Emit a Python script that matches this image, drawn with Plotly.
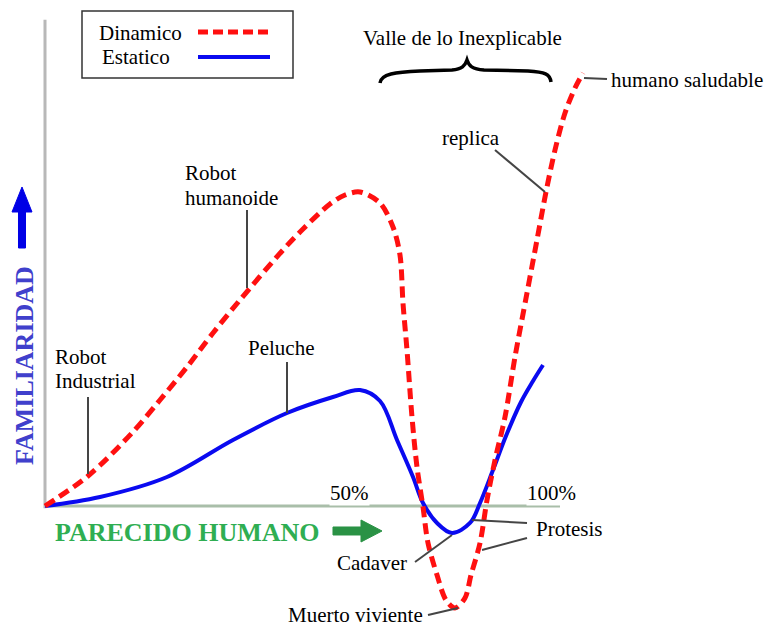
import plotly.graph_objects as go

W, H = 764, 626

# ---- Data (x: parecido humano, y: familiaridad; schematic units) ----
dyn_x = [0, 8.35, 16.89, 22.33, 27.57, 32.62, 37.86, 46.21, 50.10, 55.34, 58.25, 61.17,
         65.05, 67.57, 68.93, 69.51, 70.29, 71.26, 72.23, 73.40, 74.37, 76.12, 77.86,
         79.61, 81.55, 82.72, 84.47, 85.83, 87.38, 89.32, 91.26, 93.59, 95.53, 97.28,
         99.03, 100.97, 102.91, 104.47]
dyn_y = [0, 6.96, 16.94, 24.59, 32.25, 40.14, 47.80, 59.40, 64.27, 70.07, 72.16, 72.85,
         70.30, 64.73, 58.24, 47.10, 36.19, 20.65, 9.05, -0.23, -8.58, -16.01, -21.81,
         -23.67, -21.35, -16.01, -8.58, 1.39, 10.67, 20.65, 34.57, 49.42, 61.72, 72.85,
         82.60, 91.18, 96.98, 100.46]

sta_x = [0, 10.68, 23.69, 36.50, 46.99, 55.92, 61.17, 65.05, 68.35, 71.46, 73.40, 76.12,
         79.03, 82.52, 84.47, 86.99, 89.51, 92.43, 94.76, 96.70]
sta_y = [0, 2.09, 6.73, 15.31, 21.58, 25.29, 26.91, 24.36, 15.31, 6.73, 0.70, -3.94,
         -6.26, -3.94, 0.70, 8.35, 16.24, 24.13, 29.00, 32.71]

series_names = ["Dinamico", "Estatico"]
x_tick_labels = ["50%", "100%"]
axis_titles = ["PARECIDO HUMANO", "FAMILIARIDAD"]

# ---- Layout helpers ----
X0PX, Y0PX = 45, 506
XS, YS = 5.15, 4.31
xrange = [-X0PX / XS, (W - X0PX) / XS]
yrange = [-(H - Y0PX) / YS, Y0PX / YS]


def P(x, y):
    return x / W, 1 - y / H


def path_from(cmds, close=False):
    s = ""
    for c, pts in cmds:
        if c == "C":
            s += "C" + " ".join("%.5f,%.5f" % P(*p) for p in pts) + " "
        else:
            for p in pts:
                s += c + "%.5f,%.5f " % P(*p)
                if c == "M":
                    c = "L"
    if close:
        s += "Z"
    return s


SERIF = "Liberation Serif, Times New Roman, serif"
FS = 21
RED = "#ff1010"
BLUE = "#0a0af0"

fig = go.Figure()
fig.add_trace(go.Scatter(x=sta_x, y=sta_y, mode="lines", name=series_names[1],
                         line=dict(color=BLUE, width=4, shape="spline", smoothing=1.0),
                         hoverinfo="skip"))
fig.add_trace(go.Scatter(x=dyn_x, y=dyn_y, mode="lines", name=series_names[0],
                         line=dict(color=RED, width=5, shape="spline", smoothing=0.9,
                                   dash="11px,6px"),
                         hoverinfo="skip"))

shapes = []
# axes lines (data coordinates)
shapes.append(dict(type="line", xref="x", yref="y", x0=0, x1=0, y0=-0.5, y1=112.8,
                   line=dict(color="#b8b8b8", width=3), layer="below"))
shapes.append(dict(type="line", xref="x", yref="y", x0=0, x1=100, y0=0, y1=0,
                   line=dict(color="#a9bea9", width=3), layer="below"))


def pline(p0, p1, color="#454545", width=2):
    a = P(*p0)
    b = P(*p1)
    shapes.append(dict(type="line", xref="paper", yref="paper", x0=a[0], y0=a[1],
                       x1=b[0], y1=b[1], line=dict(color=color, width=width)))


# legend box
a = P(82, 11)
b = P(293, 78)
shapes.append(dict(type="rect", xref="paper", yref="paper", x0=a[0], y0=b[1], x1=b[0], y1=a[1],
                   line=dict(color="#333333", width=1.5), fillcolor="white"))
a = P(198, 32); b = P(270, 32)
shapes.append(dict(type="line", xref="paper", yref="paper", x0=a[0], y0=a[1], x1=b[0], y1=b[1],
                   line=dict(color=RED, width=5, dash="10px,5px")))
a = P(198, 57); b = P(270, 57)
shapes.append(dict(type="line", xref="paper", yref="paper", x0=a[0], y0=a[1], x1=b[0], y1=b[1],
                   line=dict(color=BLUE, width=4)))

# pointer lines
pline((88, 397), (88, 474))          # Robot Industrial
pline((287, 362), (287, 413))        # Peluche
pline((247, 210), (247, 288))        # Robot humanoide
pline((495, 150), (545, 192))        # replica
pline((584, 78), (607, 79))          # humano saludable
pline((527, 523), (472, 520))        # Protesis (estatico)
pline((527, 538), (482, 550))        # Protesis (dinamico)
pline((415, 562), (452, 535))        # Cadaver
pline((428, 615), (458, 608))        # Muerto viviente

# brace
brace = [("M", [(380, 83)]),
         ("C", [(381, 74), (395, 72), (420, 71)]),
         ("L", [(452, 70)]),
         ("C", [(462, 69), (465, 66), (467, 60)]),
         ("C", [(469, 66), (472, 69), (484, 70)]),
         ("L", [(528, 71)]),
         ("C", [(545, 72), (550, 74), (551, 82)])]
shapes.append(dict(type="path", xref="paper", yref="paper", path=path_from(brace),
                   line=dict(color="black", width=3.5)))

# arrows
blue_arrow = [("M", [(18.5, 248), (18.5, 212), (12, 212), (22, 187), (32, 212),
                     (25.5, 212), (25.5, 248)])]
shapes.append(dict(type="path", xref="paper", yref="paper", path=path_from(blue_arrow, True),
                   fillcolor="#0000e6", line=dict(color="#0000e6", width=1)))
green_arrow = [("M", [(333, 527), (361, 527), (361, 520), (382, 531), (361, 542),
                      (361, 535), (333, 535)])]
shapes.append(dict(type="path", xref="paper", yref="paper", path=path_from(green_arrow, True),
                   fillcolor="#2a9245", line=dict(color="#2a9245", width=1)))

annotations = []


def label(text, x, y, size=FS, color="black", bold=False, anchor="left", angle=0, bg=None):
    ax, ay = P(x, y)
    t = "<b>%s</b>" % text if bold else text
    d = dict(text=t, x=ax, y=ay, xref="paper", yref="paper", showarrow=False,
             xanchor=anchor, yanchor="middle", textangle=angle,
             font=dict(family=SERIF, size=size, color=color), borderpad=0)
    if bg:
        d["bgcolor"] = bg
    annotations.append(d)


label(series_names[0], 98, 33)
label(series_names[1], 101, 57)
label("Valle de lo Inexplicable", 362, 38)
label("humano saludable", 610, 80)
label("replica", 441, 138)
label("Robot", 184, 173)
label("humanoide", 184, 198)
label("Robot", 54, 357)
label("Industrial", 54, 381)
label("Peluche", 247, 348)
label(x_tick_labels[0], 329, 493, bg="white")
label(x_tick_labels[1], 526, 493, bg="white")
label("Protesis", 535, 529)
label("Cadaver", 336, 563)
label("Muerto viviente", 287, 615)
label(axis_titles[0], 54, 532, size=26, color="#2fae52", bold=True)
label(axis_titles[1], 24, 366, size=26, color="#4040cc", bold=True, anchor="center", angle=-90)

fig.update_layout(
    width=W, height=H,
    margin=dict(l=0, r=0, t=0, b=0),
    paper_bgcolor="white", plot_bgcolor="white",
    showlegend=False,
    xaxis=dict(range=xrange, visible=False, fixedrange=True),
    yaxis=dict(range=yrange, visible=False, fixedrange=True),
    shapes=shapes, annotations=annotations,
)

fig.write_html("out.html", config={"displayModeBar": False},
               post_script="document.body.style.margin='0px';document.body.style.overflow='hidden';")
